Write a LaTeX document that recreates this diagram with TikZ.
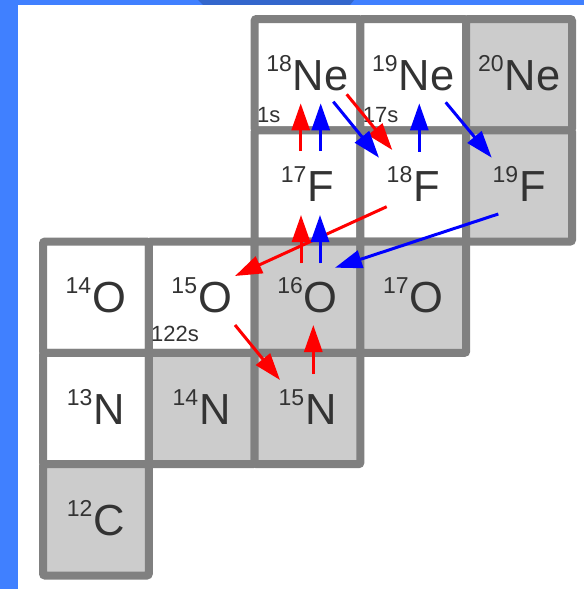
\documentclass[tikz,border=0pt]{standalone}
\usepackage{fontspec}
\setmainfont{Liberation Sans}
\usetikzlibrary{arrows.meta}
\definecolor{bgblue}{HTML}{4080FF}
\definecolor{bandblue}{HTML}{3366CC}
\definecolor{gridgray}{HTML}{808080}
\definecolor{cellgray}{HTML}{CCCCCC}
\definecolor{txt}{HTML}{333333}
\definecolor{ared}{HTML}{FF0000}
\definecolor{ablue}{HTML}{0000FF}
\newcommand\nuc[2]{{\fontsize{23pt}{23pt}\selectfont\raisebox{19pt}{#1}}\kern1pt{\fontsize{43.5pt}{43.5pt}\selectfont #2}}
\begin{document}
\begin{tikzpicture}[x=1pt,y=-1pt,
  cell/.style={draw=gridgray, line width=8pt, rounded corners=2pt,
    minimum width=105.8pt, minimum height=111.3pt, inner sep=0pt, outer sep=0pt},
  wcell/.style={cell, fill=white},
  gcell/.style={cell, fill=cellgray},
  nuclab/.style={anchor=base, inner sep=0pt, text=txt},
  small/.style={anchor=base west, inner sep=0pt, text=txt, font=\fontsize{22pt}{22pt}\selectfont},
  arr/.style={line width=3pt, -{Triangle[length=27pt,width=18pt]}},
  redarr/.style={arr, draw=ared, fill=ared},
  bluearr/.style={arr, draw=ablue, fill=ablue}]
\useasboundingbox (0,0) rectangle (584,589);
% background
\fill[bgblue] (0,0) rectangle (584,589);
\fill[bandblue] (198,0) -- (203,5) -- (350,5) -- (354,0) -- cycle;
\fill[white] (18,5) rectangle (584,589);
% cells
\node[wcell] (Ne18) at (307.5,74.65) {};
\node[wcell] (Ne19) at (413.3,74.65) {};
\node[gcell] (Ne20) at (519.1,74.65) {};
\node[wcell] (F17) at (307.5,185.95) {};
\node[wcell] (F18) at (413.3,185.95) {};
\node[gcell] (F19) at (519.1,185.95) {};
\node[wcell] (O14) at (95.9,297.25) {};
\node[wcell] (O15) at (201.7,297.25) {};
\node[gcell] (O16) at (307.5,297.25) {};
\node[gcell] (O17) at (413.3,297.25) {};
\node[wcell] (N13) at (95.9,408.55) {};
\node[gcell] (N14) at (201.7,408.55) {};
\node[gcell] (N15) at (307.5,408.55) {};
\node[gcell] (C12) at (95.9,519.85) {};
% labels
\node[nuclab] (lNe18) at ([yshift=-15.5pt]Ne18.center) {\nuc{18}{Ne}};
\node[nuclab] (lNe19) at ([yshift=-15.5pt]Ne19.center) {\nuc{19}{Ne}};
\node[nuclab] (lNe20) at ([yshift=-15.5pt]Ne20.center) {\nuc{20}{Ne}};
\node[nuclab] (lF17) at ([yshift=-15.5pt]F17.center) {\nuc{17}{F}};
\node[nuclab] (lF18) at ([yshift=-15.5pt]F18.center) {\nuc{18}{F}};
\node[nuclab] (lF19) at ([yshift=-15.5pt]F19.center) {\nuc{19}{F}};
\node[nuclab] (lO14) at ([yshift=-15.5pt]O14.center) {\nuc{14}{O}};
\node[nuclab] (lO15) at ([yshift=-15.5pt]O15.center) {\nuc{15}{O}};
\node[nuclab] (lO16) at ([yshift=-15.5pt]O16.center) {\nuc{16}{O}};
\node[nuclab] (lO17) at ([yshift=-15.5pt]O17.center) {\nuc{17}{O}};
\node[nuclab] (lN13) at ([yshift=-15.5pt]N13.center) {\nuc{13}{N}};
\node[nuclab] (lN14) at ([yshift=-15.5pt]N14.center) {\nuc{14}{N}};
\node[nuclab] (lN15) at ([yshift=-15.5pt]N15.center) {\nuc{15}{N}};
\node[nuclab] (lC12) at ([yshift=-15.5pt]C12.center) {\nuc{12}{C}};
% half-lives
\node[small] (t1) at (257,122) {1s};
\node[small] (t2) at (362.6,122) {17s};
\node[small] (t3) at (151,341) {122s};
% arrow end points
\coordinate (a1s) at (300.7,151);   \coordinate (a1e) at (300.7,103.3);
\coordinate (a2s) at (320.7,151);   \coordinate (a2e) at (320.7,103.3);
\coordinate (a3s) at (333.3,101.7); \coordinate (a3e) at (379,157.7);
\coordinate (a4s) at (346.7,94.3);  \coordinate (a4e) at (392.3,150);
\coordinate (a5s) at (419.3,151.7); \coordinate (a5e) at (419.3,103.3);
\coordinate (a6s) at (445.7,102.3); \coordinate (a6e) at (491.7,157.7);
\coordinate (a7s) at (301,263.3);   \coordinate (a7e) at (301,215);
\coordinate (a8s) at (320,263.3);   \coordinate (a8e) at (320,215);
\coordinate (a9s) at (386.7,206.7); \coordinate (a9e) at (235,276);
\coordinate (a10s) at (498.3,214);  \coordinate (a10e) at (335,267.7);
\coordinate (a11s) at (235,325);    \coordinate (a11e) at (280,380);
\coordinate (a12s) at (313.3,374);  \coordinate (a12e) at (313.3,325);
% arrows
\draw[redarr] (a1s) -- (a1e);
\draw[bluearr] (a2s) -- (a2e);
\draw[redarr] (a4s) -- (a4e);
\draw[bluearr] (a3s) -- (a3e);
\draw[bluearr] (a5s) -- (a5e);
\draw[bluearr] (a6s) -- (a6e);
\draw[redarr] (a9s) -- (a9e);
\draw[redarr] (a7s) -- (a7e);
\draw[bluearr] (a8s) -- (a8e);
\draw[bluearr] (a10s) -- (a10e);
\draw[redarr] (a11s) -- (a11e);
\draw[redarr] (a12s) -- (a12e);
\end{tikzpicture}
\end{document}
